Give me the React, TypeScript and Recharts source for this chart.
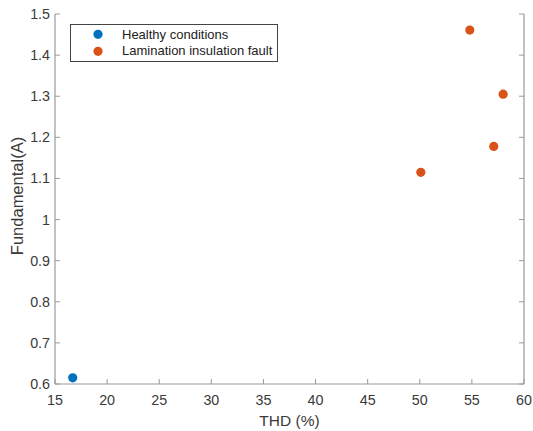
import React from 'react';
import { ScatterChart, Scatter, XAxis, YAxis, Legend } from 'recharts';

// Measured operating points: THD (%) vs fundamental current (A)
const healthyTHD = [16.7];
const healthyFundamental = [0.615];
const faultTHD = [50.1, 54.8, 57.1, 58.0];
const faultFundamental = [1.115, 1.461, 1.178, 1.305];

const xTicks = [15, 20, 25, 30, 35, 40, 45, 50, 55, 60];
const yTicks = [0.6, 0.7, 0.8, 0.9, 1.0, 1.1, 1.2, 1.3, 1.4, 1.5];

const seriesNames = ['Healthy conditions', 'Lamination insulation fault'];
const seriesColors = ['#0072BD', '#D95319'];

const healthyData = healthyTHD.map((x, i) => ({ x, y: healthyFundamental[i] }));
const faultData = faultTHD.map((x, i) => ({ x, y: faultFundamental[i] }));

const AXIS = '#9a9a9a';
const TEXT = '#3a3a3a';
const FONT = '"Liberation Sans", Arial, Helvetica, sans-serif';
const TICK_LEN = 5;
const DOT_R = 4.6;
const TICK_FONT = 14.3;

const fmtY = (v: number) => String(Number(v.toFixed(1)));

const BottomTick = (props: any) => {
  const { x, y, payload } = props;
  return (
    <g>
      <line x1={x} x2={x} y1={y} y2={y - TICK_LEN} stroke={AXIS} strokeWidth={1} />
      <text x={x} y={y + 21} textAnchor="middle" fill={TEXT} fontSize={TICK_FONT} fontFamily={FONT}>
        {payload.value}
      </text>
    </g>
  );
};

const LeftTick = (props: any) => {
  const { x, y, payload } = props;
  return (
    <g>
      <line x1={x} x2={x + TICK_LEN} y1={y} y2={y} stroke={AXIS} strokeWidth={1} />
      <text x={x - 5} y={y + 5} textAnchor="end" fill={TEXT} fontSize={TICK_FONT} fontFamily={FONT}>
        {fmtY(payload.value)}
      </text>
    </g>
  );
};

const TopTick = (props: any) => {
  const { x, y } = props;
  return <line x1={x} x2={x} y1={y} y2={y + TICK_LEN} stroke={AXIS} strokeWidth={1} />;
};

const RightTick = (props: any) => {
  const { x, y } = props;
  return <line x1={x - TICK_LEN} x2={x} y1={y} y2={y} stroke={AXIS} strokeWidth={1} />;
};

const Dot = (color: string) => (props: any) => (
  <circle cx={props.cx} cy={props.cy} r={DOT_R} fill={color} />
);

const LegendBox = () => (
  <div
    style={{
      width: 208,
      height: 38,
      border: '1px solid #444',
      background: '#fff',
      boxSizing: 'border-box',
      fontFamily: FONT,
      fontSize: 13,
      color: '#222',
      padding: '1px 0 0 0',
    }}
  >
    {seriesNames.map((name, i) => (
      <div key={name} style={{ display: 'flex', alignItems: 'center', height: 16.6 }}>
        <svg width={51} height={16.6} style={{ flex: 'none' }}>
          <circle cx={27} cy={8.3} r={DOT_R} fill={seriesColors[i]} />
        </svg>
        <span style={{ whiteSpace: 'nowrap' }}>{name}</span>
      </div>
    ))}
  </div>
);

const YTitle = (p: any) => {
  const vb = p.viewBox || { x: 0, y: 0, width: 0, height: 0 };
  const cx = vb.x + 17;
  const cy = vb.y + vb.height / 2 - 3;
  return (
    <text
      x={cx}
      y={cy}
      transform={`rotate(-90, ${cx}, ${cy})`}
      textAnchor="middle"
      dominantBaseline="central"
      fill={TEXT}
      fontSize={16.5}
      fontFamily={FONT}
    >
      Fundamental(A)
    </text>
  );
};

export default function App() {
  return (
    <div style={{ position: 'absolute', left: 0, top: 0, background: '#fff' }}>
      <ScatterChart
        width={533}
        height={431}
        margin={{ top: 14, right: 8, bottom: 0, left: 0 }}
        style={{ background: '#fff' }}
      >
        <XAxis
          type="number"
          dataKey="x"
          domain={[15, 60]}
          ticks={xTicks}
          interval={0}
          height={47}
          tickSize={0}
          tickMargin={0}
          tickLine={false}
          axisLine={{ stroke: AXIS, strokeWidth: 1.2 }}
          tick={<BottomTick />}
          allowDataOverflow
          label={{
            value: 'THD (%)',
            position: 'insideBottom',
            offset: 5,
            fill: TEXT,
            fontSize: 15.5,
            fontFamily: FONT,
          }}
        />
        <YAxis
          type="number"
          dataKey="y"
          domain={[0.6, 1.5]}
          ticks={yTicks}
          interval={0}
          width={55}
          tickSize={0}
          tickMargin={0}
          tickLine={false}
          axisLine={{ stroke: AXIS, strokeWidth: 1.2 }}
          tick={<LeftTick />}
          allowDataOverflow
          label={{ content: YTitle }}
        />
        <XAxis
          xAxisId="top"
          orientation="top"
          type="number"
          dataKey="x"
          domain={[15, 60]}
          ticks={xTicks}
          interval={0}
          height={0}
          tickSize={0}
          tickMargin={0}
          tickLine={false}
          axisLine={{ stroke: AXIS, strokeWidth: 1.2 }}
          tick={<TopTick />}
          allowDataOverflow
        />
        <YAxis
          yAxisId="right"
          orientation="right"
          type="number"
          dataKey="y"
          domain={[0.6, 1.5]}
          ticks={yTicks}
          interval={0}
          width={1}
          tickSize={0}
          tickMargin={0}
          tickLine={false}
          axisLine={{ stroke: AXIS, strokeWidth: 1.2 }}
          tick={<RightTick />}
          allowDataOverflow
        />
        <Legend
          content={<LegendBox />}
          wrapperStyle={{
            position: 'absolute',
            left: 70,
            top: 24,
            width: 0,
            height: 0,
            overflow: 'visible',
          }}
        />
        <Scatter
          name={seriesNames[0]}
          data={healthyData}
          fill={seriesColors[0]}
          shape={Dot(seriesColors[0])}
          isAnimationActive={false}
        />
        <Scatter
          name={seriesNames[1]}
          data={faultData}
          fill={seriesColors[1]}
          shape={Dot(seriesColors[1])}
          isAnimationActive={false}
        />
      </ScatterChart>
    </div>
  );
}
